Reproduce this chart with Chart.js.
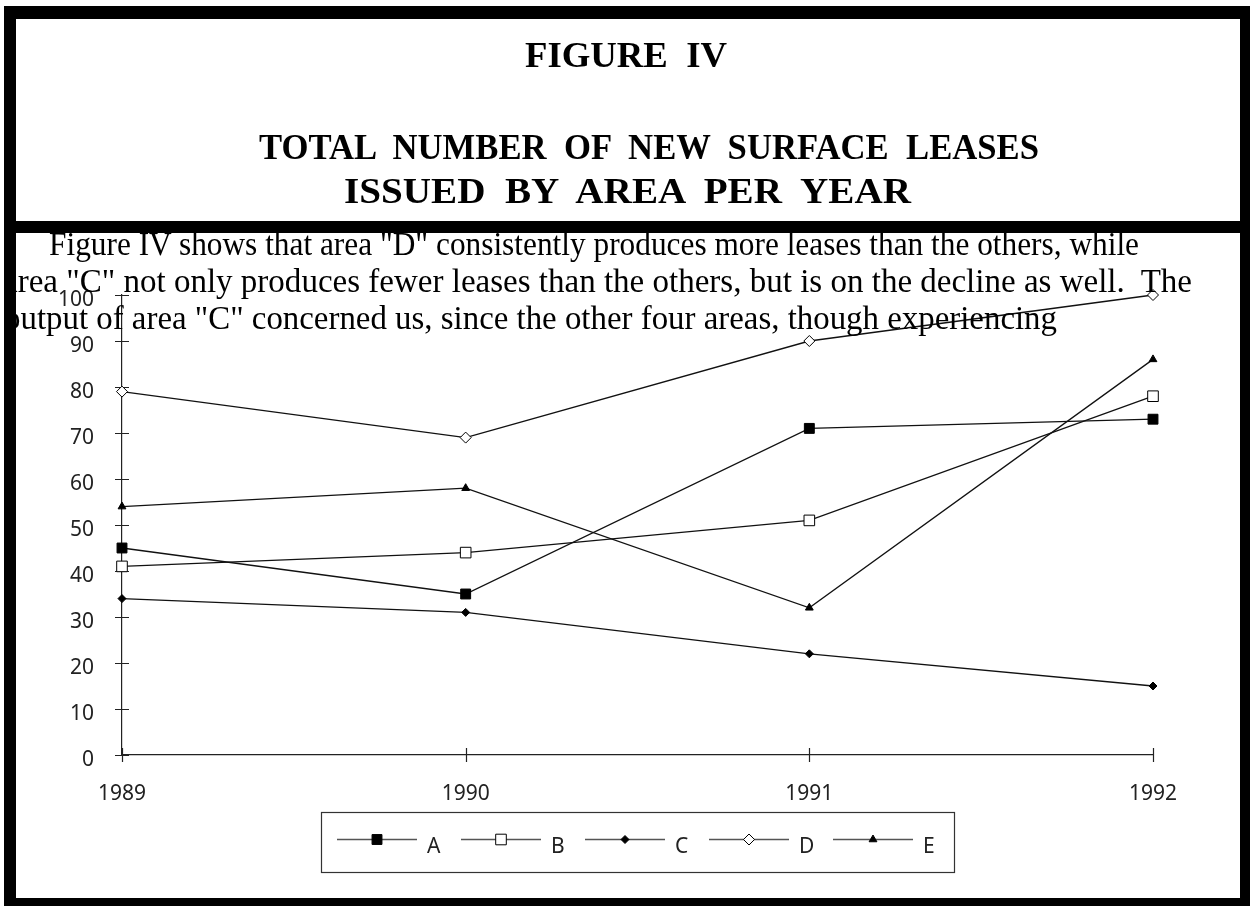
<!DOCTYPE html>
<html>
<head>
<meta charset="utf-8">
<title>Figure IV</title>
<script src="https://cdn.jsdelivr.net/npm/chart.js@4.4.1/dist/chart.umd.min.js"></script>
<style>
  html, body { margin: 0; padding: 0; background: #fff; }
  #page { position: relative; width: 1250px; height: 906px; overflow: hidden; background: #fff; }
  #chart { position: absolute; left: 0; top: 0; z-index: 0; }
  .txt { position: absolute; left: 0; top: 0; white-space: pre; transform-origin: 0 0;
         font-family: 'Liberation Serif', 'Times New Roman', serif; color: #000; line-height: 1; z-index: 1; }
  .title { font-weight: bold; font-size: 36px; }
  .para { font-size: 33px; }
  .bar { position: absolute; background: #000; z-index: 2; }
</style>
</head>
<body>
<div id="page">
  <canvas id="chart" width="1250" height="906"></canvas>
  <div id="texts"></div>
  <div class="bar" style="left:4px; top:6px; width:1246px; height:13px;"></div>
  <div class="bar" style="left:4px; top:221px; width:1246px; height:12px;"></div>
  <div class="bar" style="left:4px; top:898px; width:1246px; height:8px;"></div>
  <div class="bar" style="left:4px; top:6px; width:12px; height:900px;"></div>
  <div class="bar" style="left:1240px; top:6px; width:10px; height:900px;"></div>
</div>
<script>
// Leases issued per year, by area
const years = ['1989', '1990', '1991', '1992'];
const areaA = [45, 35, 71, 73];
const areaB = [41, 44, 51, 78];
const areaC = [34, 31, 22, 15];
const areaD = [79, 69, 90, 100];
const areaE = [54, 58, 32, 86];
const seriesNames = ['A', 'B', 'C', 'D', 'E'];
const yMin = 0;
const yMax = 100;
const yStep = 10;

const titleLines = [
  'FIGURE  IV',
  'TOTAL  NUMBER  OF  NEW  SURFACE  LEASES',
  'ISSUED  BY  AREA  PER  YEAR'
];
const paragraphLines = [
  'Figure IV shows that area "D" consistently produces more leases than the others, while',
  'area "C" not only produces fewer leases than the others, but is on the decline as well.  The',
  'output of area "C" concerned us, since the other four areas, though experiencing'
];

// marker look for each area
const markerStyles = [
  { pointStyle: 'rect',     radius: 7,   fill: '#000' },
  { pointStyle: 'rect',     radius: 7.5, fill: '#fff' },
  { pointStyle: 'rectRot',  radius: 4,   fill: '#000' },
  { pointStyle: 'rectRot',  radius: 5.5, fill: '#fff' },
  { pointStyle: 'triangle', radius: 4.5, fill: '#000' }
];

const axisFont = { family: "'Noto Sans', 'Open Sans', sans-serif", size: 21 };
const inkColor = '#222';

// --- heading and paragraph text, fitted horizontally to their line boxes ---
const textHost = document.getElementById('texts');
function addLine(text, cls) {
  const el = document.createElement('div');
  el.className = 'txt ' + cls;
  el.textContent = text;
  const mark = document.createElement('span');
  mark.style.cssText = 'display:inline-block;width:0;height:0;vertical-align:baseline;';
  el.appendChild(mark);
  textHost.appendChild(el);
  const box = el.getBoundingClientRect();
  return { el, width: box.width, base: mark.getBoundingClientRect().bottom - box.top };
}
function fitLine(item, left, right, baseline) {
  item.el.style.left = left + 'px';
  item.el.style.top = (baseline - item.base) + 'px';
  item.el.style.transform = 'scaleX(' + ((right - left) / item.width) + ')';
}
// [left, right, baseline] for each row
const titleBoxes = [[525, 727, 67], [259, 1039, 159], [344, 911, 203]];
titleLines.forEach((t, i) => {
  const [l, r, b] = titleBoxes[i];
  fitLine(addLine(t, 'title'), l, r, b);
});
// the paragraph runs under the left frame edge on its 2nd and 3rd lines
const paraBoxes = [[49, 1139, 255], [3, 1192, 292], [4, 1057, 329]];
paragraphLines.forEach((t, i) => {
  const [l, r, b] = paraBoxes[i];
  fitLine(addLine(t, 'para'), l, r, b);
});

// --- chart ---
const seriesData = [areaA, areaB, areaC, areaD, areaE];
const datasets = seriesData.map((data, i) => ({
  label: seriesNames[i],
  data: data,
  borderColor: '#111',
  borderWidth: 1.3,
  tension: 0,
  fill: false,
  clip: false,
  pointStyle: markerStyles[i].pointStyle,
  pointRadius: markerStyles[i].radius,
  pointHoverRadius: markerStyles[i].radius,
  pointBackgroundColor: markerStyles[i].fill,
  pointBorderColor: '#000',
  pointBorderWidth: 1
}));

// tick marks that cross the axis lines
const crossTicks = {
  id: 'crossTicks',
  beforeDatasetsDraw(chart) {
    const { ctx, scales: { x, y } } = chart;
    ctx.save();
    ctx.strokeStyle = inkColor;
    ctx.lineWidth = 1.2;
    ctx.beginPath();
    y.ticks.forEach((t, i) => {
      const py = Math.round(y.getPixelForTick(i)) + 0.5;
      ctx.moveTo(x.left - 7, py);
      ctx.lineTo(x.left + 7, py);
    });
    x.ticks.forEach((t, i) => {
      const px = Math.round(x.getPixelForTick(i)) + 0.5;
      ctx.moveTo(px, y.bottom - 7);
      ctx.lineTo(px, y.bottom + 7);
    });
    ctx.stroke();
    ctx.restore();
  }
};

// boxed legend: a short line with the marker in its middle, then the name
const lineLegend = {
  id: 'lineLegend',
  afterDraw(chart, args, o) {
    const ctx = chart.ctx;
    ctx.save();
    ctx.strokeStyle = '#333';
    ctx.lineWidth = 1.2;
    ctx.strokeRect(o.left + 0.5, o.top + 0.5, o.width, o.height);
    chart.data.datasets.forEach((ds, i) => {
      const x0 = o.firstX + i * o.step;
      const cy = o.lineY + 0.5;
      ctx.strokeStyle = '#555';
      ctx.lineWidth = 1.3;
      ctx.beginPath();
      ctx.moveTo(x0, cy);
      ctx.lineTo(x0 + o.lineLen, cy);
      ctx.stroke();
      ctx.fillStyle = ds.pointBackgroundColor;
      ctx.strokeStyle = '#000';
      ctx.lineWidth = 1;
      Chart.helpers.drawPoint(ctx, {
        pointStyle: ds.pointStyle, radius: ds.pointRadius, rotation: 0, borderWidth: 1
      }, x0 + o.lineLen / 2, cy);
      ctx.fillStyle = inkColor;
      ctx.font = axisFont.size + 'px ' + axisFont.family;
      ctx.textAlign = 'left';
      ctx.textBaseline = 'alphabetic';
      ctx.fillText(ds.label, x0 + o.lineLen + 10, o.textBase);
    });
    ctx.restore();
  }
};

new Chart(document.getElementById('chart'), {
  type: 'line',
  data: { labels: years, datasets: datasets },
  plugins: [crossTicks, lineLegend],
  options: {
    responsive: false,
    animation: false,
    devicePixelRatio: 1,
    events: [],
    layout: { padding: { top: 295, right: 97, bottom: 91, left: 0 } },
    plugins: {
      legend: { display: false },
      tooltip: { enabled: false },
      lineLegend: {
        left: 321, top: 812, width: 633, height: 60,
        firstX: 337, step: 124, lineLen: 80, lineY: 839, textBase: 853
      }
    },
    scales: {
      x: {
        type: 'category',
        offset: false,
        grid: { display: false, drawTicks: false },
        border: { display: true, color: inkColor, width: 1.2 },
        ticks: { color: inkColor, font: axisFont, padding: 26, maxRotation: 0, autoSkip: false },
        afterFit(scale) { scale.height = 60; }
      },
      y: {
        min: yMin,
        max: yMax,
        grid: { display: false, drawTicks: false },
        border: { display: true, color: inkColor, width: 1.2 },
        ticks: { stepSize: yStep, color: inkColor, font: axisFont, padding: 28, labelOffset: 5 },
        afterFit(scale) { scale.width = 122; }
      }
    }
  }
});
</script>
</body>
</html>
